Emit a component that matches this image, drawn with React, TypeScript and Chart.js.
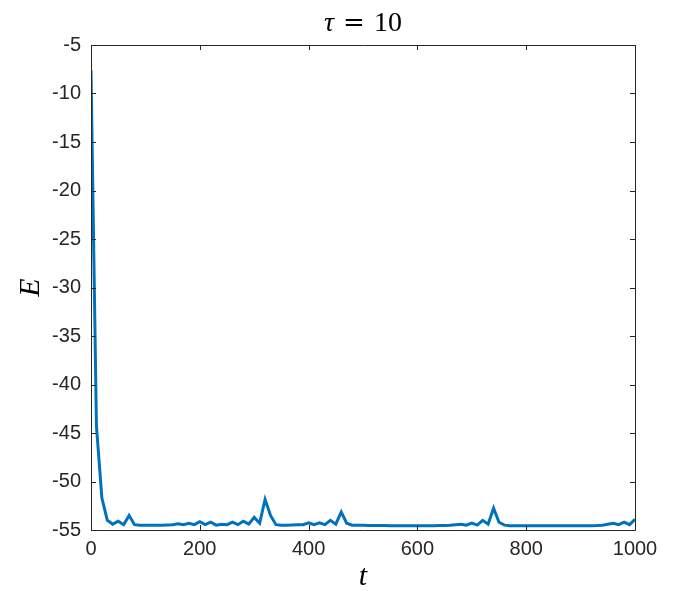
import React, { useEffect, useRef } from "react";
import { Chart, registerables } from "chart.js";

Chart.register(...registerables);

const tValues: number[] = [
  0, 10, 20, 30, 40, 50, 60, 70, 80, 90,
  100, 110, 120, 130, 140, 150, 160, 170, 180, 190,
  200, 210, 220, 230, 240, 250, 260, 270, 280, 290,
  300, 310, 320, 330, 340, 350, 360, 370, 380, 390,
  400, 410, 420, 430, 440, 450, 460, 470, 480, 490,
  500, 510, 520, 530, 540, 550, 560, 570, 580, 590,
  600, 610, 620, 630, 640, 650, 660, 670, 680, 690,
  700, 710, 720, 730, 740, 750, 760, 770, 780, 790,
  800, 810, 820, 830, 840, 850, 860, 870, 880, 890,
  900, 910, 920, 930, 940, 950, 960, 970, 980, 990,
  1000,
];

const eValues: number[] = [
  -7.6, -44.3, -51.7, -54.0, -54.4, -54.1, -54.45, -53.5, -54.45, -54.5,
  -54.5, -54.52, -54.52, -54.5, -54.48, -54.45, -54.35, -54.45, -54.3, -54.45,
  -54.15, -54.45, -54.2, -54.5, -54.4, -54.45, -54.2, -54.45, -54.1, -54.4,
  -53.7, -54.3, -51.85, -53.5, -54.45, -54.5, -54.5, -54.48, -54.45, -54.45,
  -54.25, -54.45, -54.25, -54.45, -54.0, -54.4, -53.15, -54.3, -54.5, -54.52,
  -54.52, -54.53, -54.53, -54.54, -54.54, -54.55, -54.55, -54.55, -54.55, -54.55,
  -54.55, -54.55, -54.55, -54.55, -54.54, -54.53, -54.52, -54.45, -54.4, -54.5,
  -54.3, -54.5, -54.0, -54.4, -52.75, -54.2, -54.5, -54.55, -54.55, -54.55,
  -54.55, -54.55, -54.55, -54.55, -54.55, -54.55, -54.55, -54.55, -54.55, -54.55,
  -54.55, -54.55, -54.55, -54.54, -54.5, -54.4, -54.3, -54.45, -54.2, -54.45,
  -53.9,
];

const xTicks: number[] = [0, 200, 400, 600, 800, 1000];
const yTicks: number[] = [-55, -50, -45, -40, -35, -30, -25, -20, -15, -10, -5];

const titleTau = "τ";
const titleEq = "=";
const titleNum = "10";
const xLabel = "t";
const yLabel = "E";

const AXIS_COLOR = "#262626";
const LINE_COLOR = "#0072BD";

export default function App() {
  const canvasRef = useRef<HTMLCanvasElement | null>(null);

  useEffect(() => {
    document.body.style.margin = "0";
    const canvas = canvasRef.current;
    if (!canvas) return;

    const boxPlugin = {
      id: "matlabBox",
      afterDraw(chart: any) {
        const { ctx, chartArea } = chart;
        const { left, right, top, bottom } = chartArea;
        const xs = chart.scales.x;
        const ys = chart.scales.y;
        ctx.save();
        ctx.strokeStyle = AXIS_COLOR;
        ctx.lineWidth = 1;
        ctx.beginPath();
        ctx.rect(Math.round(left) + 0.5, Math.round(top) + 0.5, Math.round(right - left), Math.round(bottom - top));
        ctx.stroke();
        const tl = 5;
        ctx.beginPath();
        xTicks.forEach((v) => {
          const px = Math.round(xs.getPixelForValue(v)) + 0.5;
          ctx.moveTo(px, bottom);
          ctx.lineTo(px, bottom - tl);
          ctx.moveTo(px, top);
          ctx.lineTo(px, top + tl);
        });
        yTicks.forEach((v) => {
          const py = Math.round(ys.getPixelForValue(v)) + 0.5;
          ctx.moveTo(left, py);
          ctx.lineTo(left + tl, py);
          ctx.moveTo(right, py);
          ctx.lineTo(right - tl, py);
        });
        ctx.stroke();

        // Title: tau = 10 with math-style spacing
        ctx.fillStyle = "#000";
        ctx.textBaseline = "alphabetic";
        ctx.textAlign = "left";
        const fItal = "italic 28px 'Liberation Serif', 'DejaVu Serif', serif";
        const fEq = "26px 'DejaVu Serif', serif";
        const fNum = "28px 'Liberation Serif', 'DejaVu Serif', serif";
        ctx.font = fItal;
        const w1 = ctx.measureText(titleTau).width;
        ctx.font = fEq;
        const w2 = ctx.measureText(titleEq).width;
        ctx.font = fNum;
        const w3 = ctx.measureText(titleNum).width;
        const gap = 9;
        const total = w1 + gap + w2 + gap + w3;
        const cx = (left + right) / 2;
        let sx = cx - total / 2;
        const baseY = 31;
        ctx.font = fItal;
        ctx.fillText(titleTau, sx, baseY);
        sx += w1 + gap;
        ctx.font = fEq;
        ctx.fillText(titleEq, sx, baseY);
        sx += w2 + gap;
        ctx.font = fNum;
        ctx.fillText(titleNum, sx, baseY);

        // Axis labels
        ctx.textBaseline = "middle";
        ctx.font = "italic 30px 'Liberation Serif', 'DejaVu Serif', serif";
        ctx.textAlign = "center";
        ctx.fillText(xLabel, cx, 577);
        ctx.save();
        ctx.translate(31, (top + bottom) / 2);
        ctx.rotate(-Math.PI / 2);
        ctx.fillText(yLabel, 0, 0);
        ctx.restore();
        ctx.restore();
      },
    };

    const chart = new Chart(canvas, {
      type: "line",
      data: {
        labels: tValues,
        datasets: [
          {
            data: tValues.map((t, i) => ({ x: t, y: eValues[i] })),
            borderColor: LINE_COLOR,
            borderWidth: 3,
            pointRadius: 0,
            fill: false,
            tension: 0,
          },
        ],
      },
      options: {
        animation: false,
        responsive: false,
        maintainAspectRatio: false,
        layout: { padding: { top: 45, right: 65, left: 0, bottom: 0 } },
        plugins: {
          legend: { display: false },
          tooltip: { enabled: false },
          title: { display: false },
        },
        scales: {
          x: {
            type: "linear",
            min: 0,
            max: 1000,
            afterBuildTicks: (scale: any) => {
              scale.ticks = xTicks.map((v) => ({ value: v }));
            },
            afterFit: (scale: any) => {
              scale.height = 70;
            },
            grid: { display: false, drawTicks: false },
            border: { display: false },
            ticks: {
              color: AXIS_COLOR,
              font: { family: "'Liberation Sans', Arial, sans-serif", size: 20 },
              padding: 7,
              maxRotation: 0,
              autoSkip: false,
              callback: (v: any) => String(v),
            },
          },
          y: {
            type: "linear",
            min: -55,
            max: -5,
            afterBuildTicks: (scale: any) => {
              scale.ticks = yTicks.map((v) => ({ value: v }));
            },
            afterFit: (scale: any) => {
              scale.width = 91;
            },
            grid: { display: false, drawTicks: false },
            border: { display: false },
            ticks: {
              color: AXIS_COLOR,
              font: { family: "'Liberation Sans', Arial, sans-serif", size: 20 },
              padding: 10,
              autoSkip: false,
              callback: (v: any) => String(v),
            },
          },
        },
      },
      plugins: [boxPlugin],
    });

    return () => {
      chart.destroy();
    };
  }, []);

  return <canvas ref={canvasRef} width={700} height={600} style={{ display: "block" }} />;
}
